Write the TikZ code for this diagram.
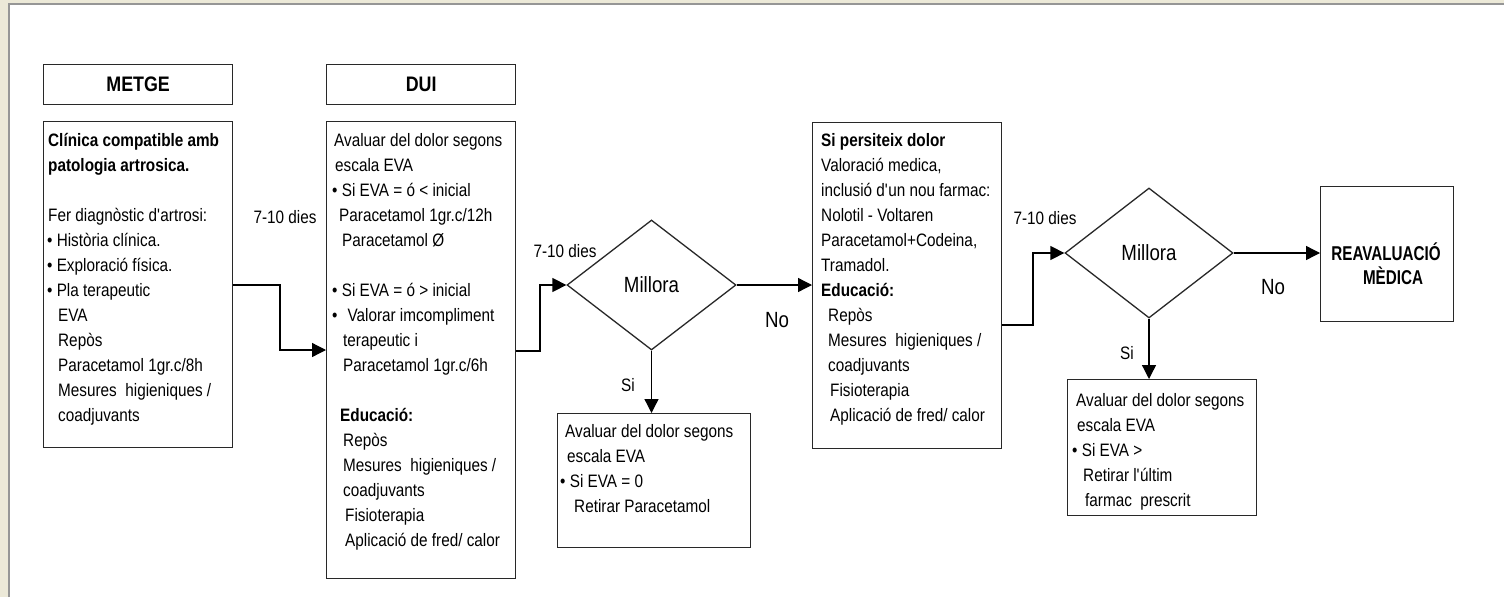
\documentclass[tikz,border=0pt]{standalone}
\usepackage{fontspec}
\setmainfont{Liberation Sans}[FakeStretch=0.85]
\newfontfamily\narrowfont{Liberation Sans}[FakeStretch=0.76]
\usetikzlibrary{arrows.meta,shapes.geometric}
\definecolor{winbeige}{RGB}{236,233,216}
\definecolor{winline}{RGB}{150,150,150}
\definecolor{boxline}{RGB}{40,40,40}
\tikzset{
  box/.style={draw=boxline, line width=1.3pt, rectangle, inner sep=0pt, anchor=north west},
  hdr/.style={box, minimum width=189pt, minimum height=40pt, font=\fontsize{21}{24}\selectfont\bfseries},
  txt/.style={anchor=north west, inner sep=0pt, align=left, font=\fontsize{18}{25}\selectfont},
  dia/.style={shape=diamond, draw=boxline, line width=1.3pt, inner sep=0pt, aspect=1.3,
              minimum height=130pt, font=\fontsize{22}{24}\selectfont},
  lbl/.style={inner sep=0pt, font=\fontsize{18}{20}\selectfont},
  lblbig/.style={inner sep=0pt, font=\fontsize{22}{24}\selectfont},
  arr/.style={-{Triangle[length=14pt,width=14pt]}, line width=1.3pt, draw=black},
}
\newcommand{\fstrut}{\rule{0pt}{16pt}}
\begin{document}
\begin{tikzpicture}[x=1pt,y=-1pt]
\useasboundingbox (0,0) rectangle (1504,597);
\fill[white] (0,0) rectangle (1504,597);
\fill[winbeige] (0,0) rectangle (1504,3);
\fill[winbeige] (0,0) rectangle (7.5,597);
\draw[winline, line width=2pt] (8.5,597) -- (8.5,4) -- (1504,4);

% headers
\node[hdr] (hmetge) at (43,64) {METGE};
\node[hdr] (hdui) at (326,64) {DUI};

% boxes
\node[box, minimum width=189pt, minimum height=326pt] (metge) at (43,121) {};
\node[box, minimum width=189pt, minimum height=457pt] (dui) at (326,121) {};
\node[box, minimum width=193pt, minimum height=134pt] (ok1) at (557,413) {};
\node[box, minimum width=189pt, minimum height=326pt] (pers) at (812,122) {};
\node[box, minimum width=189pt, minimum height=136pt] (ok2) at (1067,379) {};
\node[box, minimum width=133pt, minimum height=135pt] (reav) at (1320,186) {};

% diamonds
\node[dia, minimum width=169pt] (d1) at (651.5,285) {Millora};
\node[dia, minimum width=168pt] (d2) at (1149,253) {Millora};

% texts
\node[txt] (metgetxt) at (47,130) {%
\fstrut\hspace*{1pt}\textbf{Clínica compatible amb}\\
\hspace*{1pt}\textbf{patologia artrosica.}\\
~\\
\hspace*{1pt}Fer diagnòstic d\textquotesingle artrosi:\\
• Història clínica.\\
• Exploració física.\\
• Pla terapeutic\\
\hspace*{11pt}EVA\\
\hspace*{11pt}Repòs\\
\hspace*{11pt}Paracetamol 1gr.c/8h\\
\hspace*{11pt}Mesures\ \ higieniques /\\
\hspace*{11pt}coadjuvants};

\node[txt] (duitxt) at (332,130) {%
\fstrut\hspace*{2pt}Avaluar del dolor segons\\
\hspace*{3pt}escala EVA\\
• Si EVA = ó < inicial\\
\hspace*{7pt}Paracetamol 1gr.c/12h\\
\hspace*{10pt}Paracetamol Ø\\
~\\
• Si EVA = ó > inicial\\
•\hspace*{10pt}Valorar imcompliment\\
\hspace*{11pt}terapeutic i\\
\hspace*{11pt}Paracetamol 1gr.c/6h\\
~\\
\hspace*{8pt}\textbf{Educació:}\\
\hspace*{11pt}Repòs\\
\hspace*{11pt}Mesures\ \ higieniques /\\
\hspace*{11pt}coadjuvants\\
\hspace*{13pt}Fisioterapia\\
\hspace*{13pt}Aplicació de fred/ calor};

\node[txt] (ok1txt) at (560,421) {%
\fstrut\hspace*{5pt}Avaluar del dolor segons\\
\hspace*{7pt}escala EVA\\
• Si EVA = 0\\
\hspace*{14pt}Retirar Paracetamol};

\node[txt] (perstxt) at (820,130) {%
\fstrut\hspace*{1pt}\textbf{Si persiteix dolor}\\
\hspace*{1pt}Valoració medica,\\
\hspace*{1pt}inclusió d\textquotesingle un nou farmac:\\
\hspace*{1pt}Nolotil - Voltaren\\
\hspace*{1pt}Paracetamol+Codeina,\\
\hspace*{1pt}Tramadol.\\
\hspace*{1pt}\textbf{Educació:}\\
\hspace*{8pt}Repòs\\
\hspace*{8pt}Mesures\ \ higieniques /\\
\hspace*{8pt}coadjuvants\\
\hspace*{10pt}Fisioterapia\\
\hspace*{10pt}Aplicació de fred/ calor};

\node[txt] (ok2txt) at (1072,390) {%
\fstrut\hspace*{4pt}Avaluar del dolor segons\\
\hspace*{5pt}escala EVA\\
• Si EVA >\\
\hspace*{11pt}Retirar l\textquotesingle últim\\
\hspace*{13pt}farmac\ \ prescrit};

\node[inner sep=0pt, align=center, font=\fontsize{20}{24}\narrowfont\bfseries] (reavtxt) at (1386,264)
  {REAVALUACIÓ\\\hspace*{14pt}MÈDICA};

% connectors
\coordinate (b1) at (280,350);
\coordinate (b2) at (540,351);
\coordinate (b3) at (1033,325);
\draw[arr] (metge.east |- d1.west) -| (b1) -- (dui.west |- b1);
\draw[arr] (dui.east |- b2) -- (b2) |- (d1.west);
\draw[arr] (d1.east) -- (pers.west |- d1.east);
\draw[arr] (d1.south) -- (ok1.north -| d1.south);
\draw[arr] (pers.east |- b3) -- (b3) |- (d2.west);
\draw[arr] (d2.east) -- (reav.west |- d2.east);
\draw[arr] (d2.south) -- (ok2.north -| d2.south);

% labels
\node[lbl] (l1) at (285,217) {7-10 dies};
\node[lbl] (l2) at (565,251) {7-10 dies};
\node[lbl] (l3) at (1045,218) {7-10 dies};
\node[lbl] (si1) at (628,385) {Si};
\node[lbl] (si2) at (1127,353) {Si};
\node[lblbig] (no1) at (777,320) {No};
\node[lblbig] (no2) at (1273,287) {No};
\end{tikzpicture}
\end{document}
